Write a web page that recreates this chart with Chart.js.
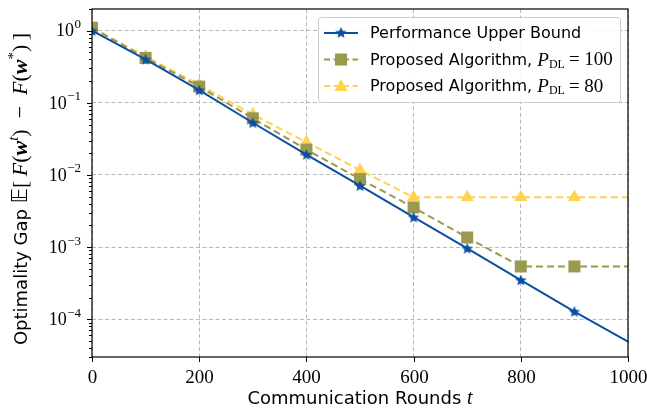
<!DOCTYPE html>
<html lang="en">
<head>
<meta charset="UTF-8">
<title>Optimality Gap vs Communication Rounds</title>
<script src="https://cdn.jsdelivr.net/npm/chart.js"></script>
<style>
  html, body { margin: 0; padding: 0; background: #fff; }
</style>
</head>
<body>
<canvas id="chart" width="647" height="409"></canvas>
<script>
// data
const rounds = [0, 100, 200, 300, 400, 500, 600, 700, 800, 900, 1000];
const upperBound = [1.0, 0.40, 0.15, 0.053, 0.0192, 0.0071, 0.0026, 0.00096, 0.00035, 0.000128, 0.000049];
const algP100 = [1.1, 0.42, 0.168, 0.061, 0.0225, 0.0088, 0.00355, 0.00136, 0.00054, 0.00054, 0.00054];
const algP80 = [1.1, 0.44, 0.178, 0.069, 0.0285, 0.0117, 0.0049, 0.0049, 0.0049, 0.0049, 0.0049];
const xTicks = [0, 200, 400, 600, 800, 1000];
const yDecades = [0, -1, -2, -3, -4];
const legendLabels = ['Performance Upper Bound', 'Proposed Algorithm, ', 'Proposed Algorithm, '];
const legendPower = [null, '100', '80'];

const BLUE = '#0B4FA0';
const OLIVE = '#9A9A4E';
const YELLOW = '#FFD24F';
const SERIF = '"Liberation Serif", "DejaVu Serif", serif';
const SANS = '"DejaVu Sans", sans-serif';

function makeStar(size, color) {
    const c = document.createElement('canvas');
    c.width = size; c.height = size;
    const g = c.getContext('2d');
    const cx = size / 2, cy = size / 2 + 0.5, R = size / 2, r = R * 0.45;
    g.beginPath();
    for (let i = 0; i < 10; i++) {
        const a = -Math.PI / 2 + i * Math.PI / 5;
        const rad = i % 2 ? r : R;
        g.lineTo(cx + rad * Math.cos(a), cy + rad * Math.sin(a));
    }
    g.closePath();
    g.fillStyle = color;
    g.fill();
    return c;
}
const star = makeStar(12, BLUE);

// markers every 100 rounds up to 900, line runs to 1000
function radii(r) { return rounds.map(t => t < 1000 ? r : 0); }
function pts(arr) { return rounds.map((t, i) => ({ x: t, y: arr[i] })); }

function isDecade(v) {
    const l = Math.log10(v);
    return Math.abs(l - Math.round(l)) < 1e-6;
}

function drawMarker(g, kind, x, y) {
    if (kind === 'star') {
        g.drawImage(star, x - 6, y - 6.5);
    } else if (kind === 'rect') {
        g.fillStyle = OLIVE;
        g.fillRect(x - 6, y - 6, 12, 12);
    } else {
        g.fillStyle = YELLOW;
        g.beginPath();
        g.moveTo(x, y - 7);
        g.lineTo(x + 6.5, y + 5);
        g.lineTo(x - 6.5, y + 5);
        g.closePath();
        g.fill();
    }
}

const decor = {
    id: 'decor',
    afterDraw(chart) {
        const g = chart.ctx;
        const a = chart.chartArea;
        const xs = chart.scales.x, ys = chart.scales.y;
        g.save();

        // frame
        g.strokeStyle = '#000';
        g.lineWidth = 1.2;
        g.strokeRect(a.left, a.top, a.right - a.left, a.bottom - a.top);

        // x ticks and labels
        g.lineWidth = 1;
        g.fillStyle = '#000';
        g.font = '19px ' + SERIF;
        g.textAlign = 'center';
        g.textBaseline = 'middle';
        xTicks.forEach(t => {
            const px = Math.round(xs.getPixelForValue(t)) + 0.5;
            g.beginPath(); g.moveTo(px, a.bottom); g.lineTo(px, a.bottom + 5); g.stroke();
            g.fillText(String(t), px, a.bottom + 21);
        });

        // y ticks: majors and minors
        for (let e = -5; e <= 0; e++) {
            for (let m = 1; m <= 9; m++) {
                const v = m * Math.pow(10, e);
                if (v < ys.min || v > ys.max) continue;
                const py = Math.round(ys.getPixelForValue(v)) + 0.5;
                const len = m === 1 ? 5 : 3;
                g.beginPath(); g.moveTo(a.left - len, py); g.lineTo(a.left, py); g.stroke();
            }
        }
        yDecades.forEach(e => {
            const py = ys.getPixelForValue(Math.pow(10, e));
            const exp = e === 0 ? '0' : '\u2212' + Math.abs(e);
            g.font = '13px ' + SERIF;
            g.textAlign = 'right';
            g.textBaseline = 'middle';
            const ew = g.measureText(exp).width;
            g.fillText(exp, 81, py - 6);
            g.font = '18px ' + SERIF;
            g.fillText('10', 81 - ew - 0.5, py + 1);
        });

        // x title
        g.textBaseline = 'alphabetic';
        g.textAlign = 'left';
        g.font = '18px ' + SANS;
        const t1 = 'Communication Rounds ';
        const w1 = g.measureText(t1).width;
        g.font = 'italic 20px ' + SERIF;
        const w2 = g.measureText('t').width;
        let x0 = (a.left + a.right) / 2 - (w1 + w2) / 2;
        g.font = '18px ' + SANS;
        g.fillText(t1, x0, 404);
        g.font = 'italic 20px ' + SERIF;
        g.fillText('t', x0 + w1, 404);

        // y title, rotated, built from pieces
        const M = '22px ' + SERIF, MI = 'italic 22px ' + SERIF;
        const parts = [
            { s: 'Optimality Gap ', f: '18px ' + SANS, dy: 0 },
            { s: '\uD835\uDD3C', f: '21px "DejaVu Sans"', dy: 0 },
            { s: '[\u2009', f: M, dy: 0 },
            { s: 'F', f: MI, dy: 0 },
            { s: '(', f: M, dy: 0 },
            { s: 'w', f: 'italic bold 22px ' + SERIF, dy: 0 },
            { s: 't', f: 'italic 15px ' + SERIF, dy: -9 },
            { s: ')\u2002\u2212\u2002', f: M, dy: 0 },
            { s: 'F', f: MI, dy: 0 },
            { s: '(', f: M, dy: 0 },
            { s: 'w', f: 'italic bold 22px ' + SERIF, dy: 0 },
            { s: '*', f: '15px ' + SERIF, dy: -9 },
            { s: ')\u2009]', f: M, dy: 0 }
        ];
        let total = 0;
        parts.forEach(p => { g.font = p.f; p.w = g.measureText(p.s).width; total += p.w; });
        g.translate(27, (a.top + a.bottom) / 2 + 6);
        g.rotate(-Math.PI / 2);
        let cx = -total / 2;
        parts.forEach(p => { g.font = p.f; g.fillText(p.s, cx, p.dy); cx += p.w; });
        g.setTransform(1, 0, 0, 1, 0, 0);

        // legend
        const lx = 318, ly = 17, lw = 302, lh = 85;
        g.beginPath();
        g.roundRect(lx + 0.5, ly + 0.5, lw, lh, 3);
        g.fillStyle = 'rgba(255,255,255,0.85)';
        g.fill();
        g.strokeStyle = '#cccccc';
        g.lineWidth = 1;
        g.stroke();
        const rows = [
            { color: BLUE, dash: [], mk: 'star' },
            { color: OLIVE, dash: [6, 3.5], mk: 'rect' },
            { color: YELLOW, dash: [6, 3.5], mk: 'tri' }
        ];
        rows.forEach((r, i) => {
            const y = 33 + i * 26.5;
            g.strokeStyle = r.color;
            g.lineWidth = 2;
            g.setLineDash(r.dash);
            g.beginPath(); g.moveTo(324, y); g.lineTo(358, y); g.stroke();
            g.setLineDash([]);
            drawMarker(g, r.mk, 341, y);
            g.fillStyle = '#000';
            g.textAlign = 'left';
            g.textBaseline = 'middle';
            g.font = '16px ' + SANS;
            g.fillText(legendLabels[i], 370, y + 1);
            if (legendPower[i]) {
                let tx = 370 + g.measureText(legendLabels[i]).width;
                g.font = 'italic 19px ' + SERIF;
                g.fillText('P', tx, y + 1);
                tx += g.measureText('P').width;
                g.font = '12px ' + SERIF;
                g.fillText('DL', tx, y + 5);
                tx += g.measureText('DL').width + 4;
                g.font = '19px ' + SERIF;
                g.fillText('= ' + legendPower[i], tx, y + 1);
            }
        });
        g.restore();
    }
};

new Chart(document.getElementById('chart'), {
    type: 'line',
    data: {
        datasets: [
            {
                label: 'Performance Upper Bound',
                data: pts(upperBound),
                borderColor: BLUE,
                backgroundColor: BLUE,
                borderWidth: 2,
                pointStyle: star,
                pointRadius: radii(6),
                order: 1
            },
            {
                label: 'Proposed Algorithm, P_DL = 100',
                data: pts(algP100),
                borderColor: OLIVE,
                backgroundColor: OLIVE,
                borderWidth: 2,
                borderDash: [7, 4],
                pointStyle: 'rect',
                pointRadius: radii(8.5),
                pointBorderWidth: 0,
                order: 2
            },
            {
                label: 'Proposed Algorithm, P_DL = 80',
                data: pts(algP80),
                borderColor: YELLOW,
                backgroundColor: YELLOW,
                borderWidth: 2,
                borderDash: [7, 4],
                pointStyle: 'triangle',
                pointRadius: radii(7.5),
                pointBorderWidth: 0,
                order: 3
            }
        ]
    },
    options: {
        responsive: false,
        animation: false,
        layout: { padding: { left: 0, top: 9, right: 19, bottom: 0 } },
        plugins: {
            legend: { display: false },
            tooltip: { enabled: false }
        },
        scales: {
            x: {
                type: 'linear',
                min: 0,
                max: 1000,
                ticks: { stepSize: 200, display: false },
                grid: { color: '#b8b8b8', lineWidth: 1, drawTicks: false },
                border: { display: false, dash: [4, 2.5] },
                afterFit(s) { s.height = 52; }
            },
            y: {
                type: 'logarithmic',
                min: 3e-5,
                max: 2,
                ticks: { display: false },
                grid: {
                    color: c => (c.tick && isDecade(c.tick.value)) ? '#b8b8b8' : 'rgba(0,0,0,0)',
                    lineWidth: 1,
                    drawTicks: false
                },
                border: { display: false, dash: [4, 2.5] },
                afterFit(s) { s.width = 92; }
            }
        }
    },
    plugins: [decor]
});
</script>
</body>
</html>
